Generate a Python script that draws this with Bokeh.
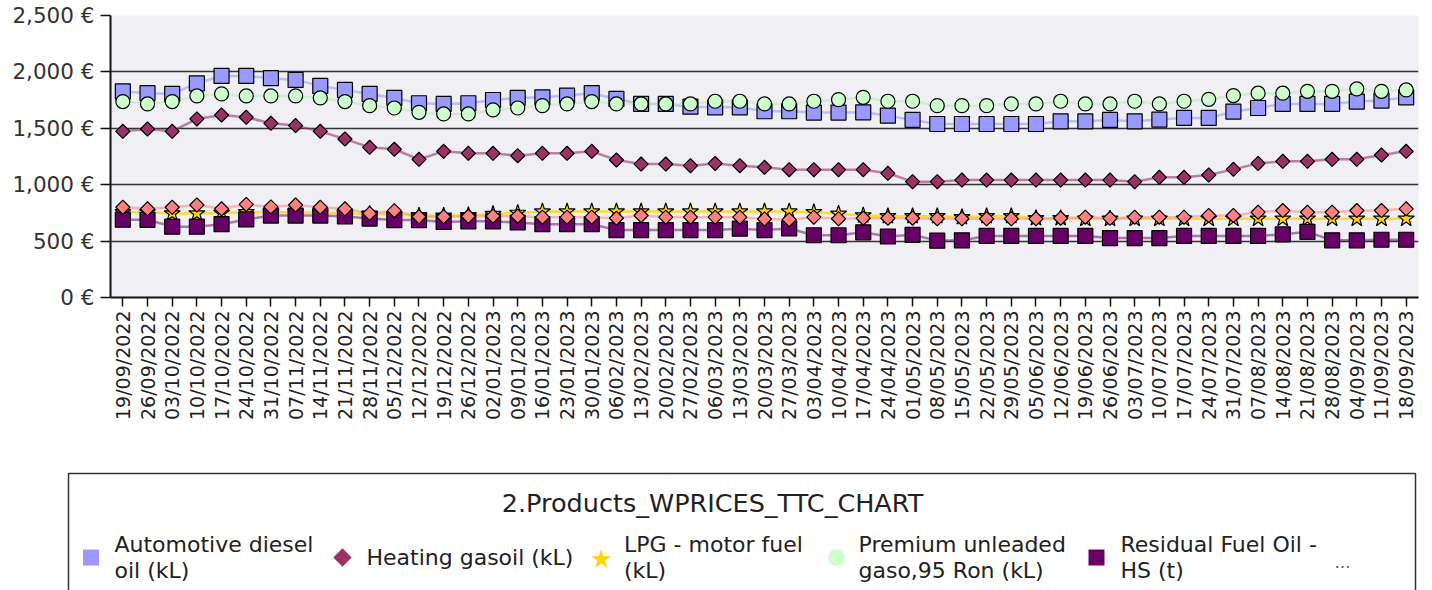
import math
from bokeh.plotting import figure
from bokeh.models import FactorRange, Range1d, FixedTicker
from bokeh.layouts import column, row
from bokeh.embed import file_html
from bokeh.resources import INLINE
from bokeh.core.properties import value

dates = ["19/09/2022", "26/09/2022", "03/10/2022", "10/10/2022", "17/10/2022", "24/10/2022",
         "31/10/2022", "07/11/2022", "14/11/2022", "21/11/2022", "28/11/2022", "05/12/2022",
         "12/12/2022", "19/12/2022", "26/12/2022", "02/01/2023", "09/01/2023", "16/01/2023",
         "23/01/2023", "30/01/2023", "06/02/2023", "13/02/2023", "20/02/2023", "27/02/2023",
         "06/03/2023", "13/03/2023", "20/03/2023", "27/03/2023", "03/04/2023", "10/04/2023",
         "17/04/2023", "24/04/2023", "01/05/2023", "08/05/2023", "15/05/2023", "22/05/2023",
         "29/05/2023", "05/06/2023", "12/06/2023", "19/06/2023", "26/06/2023", "03/07/2023",
         "10/07/2023", "17/07/2023", "24/07/2023", "31/07/2023", "07/08/2023", "14/08/2023",
         "21/08/2023", "28/08/2023", "04/09/2023", "11/09/2023", "18/09/2023"]

diesel = [1828, 1811, 1805, 1899, 1964, 1964, 1944, 1929, 1876, 1840, 1805, 1769, 1722, 1716, 1722,
          1751, 1769, 1775, 1790, 1811, 1760, 1716, 1716, 1692, 1686, 1686, 1651, 1651, 1639, 1639,
          1642, 1612, 1574, 1538, 1538, 1538, 1538, 1538, 1562, 1562, 1574, 1562, 1577, 1592, 1592,
          1648, 1680, 1716, 1716, 1716, 1737, 1746, 1775]

heating = [1473, 1494, 1473, 1583, 1618, 1598, 1544, 1524, 1473, 1405, 1331, 1314, 1225, 1296, 1278,
           1278, 1257, 1278, 1278, 1296, 1219, 1183, 1183, 1169, 1189, 1169, 1154, 1133, 1133, 1133,
           1133, 1101, 1027, 1027, 1041, 1041, 1041, 1041, 1041, 1041, 1041, 1027, 1065, 1065, 1086,
           1136, 1189, 1207, 1207, 1225, 1225, 1263, 1296]

lpg = [756, 756, 745, 745, 750, 756, 756, 756, 750, 745, 740, 735, 725, 725, 730,
       740, 750, 762, 762, 762, 762, 762, 762, 762, 762, 762, 762, 762, 756, 742,
       727, 721, 721, 721, 712, 721, 721, 703, 703, 698, 698, 698, 698, 698, 698,
       698, 698, 698, 698, 698, 698, 698, 698]

premium = [1737, 1716, 1737, 1787, 1805, 1787, 1787, 1787, 1769, 1737, 1701, 1680, 1642, 1627, 1627,
           1663, 1680, 1701, 1716, 1737, 1716, 1716, 1716, 1716, 1740, 1740, 1716, 1716, 1740, 1754,
           1775, 1740, 1740, 1701, 1701, 1701, 1716, 1716, 1740, 1716, 1716, 1740, 1716, 1740, 1757,
           1790, 1811, 1811, 1828, 1828, 1849, 1828, 1840]

residual = [690, 689, 628, 628, 650, 692, 726, 726, 726, 718, 700, 686, 686, 670, 675,
            675, 665, 650, 650, 650, 598, 598, 598, 598, 598, 610, 598, 612, 552, 552,
            578, 541, 556, 504, 507, 546, 546, 546, 546, 546, 527, 527, 527, 546, 546,
            546, 546, 559, 582, 507, 507, 512, 512]

# sixth series, hidden behind the legend's "..."
sixth = [800, 786, 800, 820, 786, 825, 803, 820, 800, 786, 745, 770, 716, 716, 720,
         721, 721, 712, 712, 712, 703, 727, 712, 712, 712, 712, 696, 690, 712, 698,
         703, 703, 703, 698, 698, 698, 698, 698, 703, 712, 702, 712, 712, 712, 727,
         727, 756, 771, 756, 756, 771, 771, 786]

y_ticks = [0, 500, 1000, 1500, 2000, 2500]
y_tick_labels = ["0 €", "500 €", "1,000 €", "1,500 €", "2,000 €", "2,500 €"]

legend_title = "2.Products_WPRICES_TTC_CHART"
legend_labels = [["Automotive diesel", "oil (kL)"],
                 ["Heating gasoil (kL)"],
                 ["LPG - motor fuel", "(kL)"],
                 ["Premium unleaded", "gaso,95 Ron (kL)"],
                 ["Residual Fuel Oil -", "HS (t)"]]

FONT = "DejaVu Sans"
W = 1432
MAIN_H = 460
LEG_H = 130

# series styling: (values, fill, marker, size, angle, line colour, line alpha)
series = [
    (diesel,   "#9999ff", "square", 15, 0.0,         "#9999ff", 0.6),
    (heating,  "#993366", "square", 10, math.pi / 4, "#993366", 0.6),
    (lpg,      "#ffd700", "star",   17, 0.0,         "#ffd700", 0.8),
    (premium,  "#ccffcc", "circle", 14, 0.0,         "#bbeebb", 0.6),
    (residual, "#660066", "square", 15, 0.0,         "#660066", 0.5),
    (sixth,    "#ff8080", "square", 10, math.pi / 4, "#ff8080", 0.5),
]

p = figure(x_range=FactorRange(factors=dates), y_range=Range1d(0, 2500),
           width=W, height=MAIN_H, output_backend="svg", toolbar_location=None,
           min_border_left=110, min_border_right=14, min_border_top=15,
           min_border_bottom=MAIN_H - 297)
p.outline_line_color = None
p.background_fill_color = "#efeff4"
p.border_fill_color = "white"

p.xgrid.grid_line_color = None
p.ygrid.ticker = FixedTicker(ticks=y_ticks)
p.ygrid.grid_line_color = "#333333"
p.ygrid.grid_line_width = 1.5

p.yaxis.ticker = FixedTicker(ticks=y_ticks)
p.yaxis.major_label_overrides = {t: l for t, l in zip(y_ticks, y_tick_labels)}
p.yaxis.major_label_text_font = FONT
p.yaxis.major_label_text_font_size = "21.5px"
p.yaxis.major_label_text_color = "#333333"
p.yaxis.major_tick_out = 10
p.yaxis.major_tick_in = 0
p.yaxis.minor_tick_out = 0
p.yaxis.minor_tick_in = 0
p.yaxis.major_label_standoff = 6
p.yaxis.axis_line_width = 2
p.yaxis.axis_line_color = "#111111"
p.yaxis.major_tick_line_width = 1.5
p.yaxis.major_tick_line_color = "#111111"

p.xaxis.major_label_orientation = math.pi / 2
p.xaxis.major_label_text_font = FONT
p.xaxis.major_label_text_font_size = "19px"
p.xaxis.major_label_text_color = "#222222"
p.xaxis.major_tick_out = 9
p.xaxis.major_tick_in = 0
p.xaxis.major_label_standoff = 4
p.xaxis.axis_line_width = 2
p.xaxis.axis_line_color = "#111111"
p.xaxis.major_tick_line_width = 1.5
p.xaxis.major_tick_line_color = "#111111"

for vals, fill, marker, size, angle, lc, la in series:
    p.line(x=dates, y=vals, line_color=lc, line_alpha=la, line_width=2.5)

for vals, fill, marker, size, angle, lc, la in series:
    p.scatter(x=dates, y=vals, marker=marker, size=size, angle=angle,
              fill_color=fill, line_color="black", line_width=1.2)

# legend panel (coordinates: page x, page y minus MAIN_H)
lg = figure(width=W, height=LEG_H, x_range=Range1d(0, W), y_range=Range1d(LEG_H, 0),
            output_backend="svg", toolbar_location=None, min_border=0,
            x_axis_location=None, y_axis_location=None)
lg.grid.visible = False
lg.outline_line_color = None
lg.background_fill_color = "white"

lg.quad(left=[68], right=[1415], top=[13], bottom=[400], fill_color=None,
        line_color="#333333", line_width=1.5)
lg.text(x=[712], y=[42], text=[legend_title], text_align="center", text_baseline="middle",
        text_font=value(FONT), text_font_size="25.5px", text_color="#222222")

sw_x = [90.5, 342, 600.7, 836, 1096]
tx_x = [114, 366, 623.5, 858, 1120]
sw_style = [("square", 16, 0.0), ("square", 13, math.pi / 4), ("star", 21, 0.0),
            ("circle", 17, 0.0), ("square", 16, 0.0)]
for i, (lab, (vals, fill, *_)) in enumerate(zip(legend_labels, series[:5])):
    mk, sz, ang = sw_style[i]
    lg.scatter(x=[sw_x[i]], y=[97 if mk != "star" else 99], marker=mk, size=sz, angle=ang,
               fill_color=fill, line_color=None)
    ys = [97] if len(lab) == 1 else [84, 110]
    lg.text(x=[tx_x[i]] * len(lab), y=ys, text=lab, text_align="left", text_baseline="middle",
            text_font=value(FONT), text_font_size="22px", text_color="#222222")
lg.text(x=[1342], y=[102], text=["…"], text_align="center", text_baseline="middle",
        text_font=value(FONT), text_font_size="16px", text_color="#555555")

layout = column(p, row(lg))
open("out.html", "w").write(file_html(layout, INLINE))
